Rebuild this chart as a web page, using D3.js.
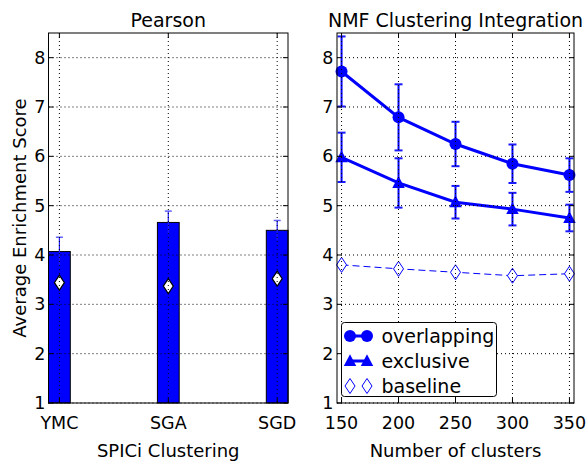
<!DOCTYPE html>
<html>
<head>
<meta charset="utf-8">
<script src="https://cdn.jsdelivr.net/npm/d3@7"></script>
<style>
  body { margin: 0; background: #fff; }
  text { font-family: "DejaVu Sans", sans-serif; fill: #000; }
</style>
</head>
<body>
<div id="chart"></div>
<script>
// Data
let spiciCats = ["YMC", "SGA", "SGD"];
let spiciMeans = [4.07, 4.66, 4.50];
let spiciErr = [0.29, 0.23, 0.20];
let spiciBaseline = [3.44, 3.37, 3.52];

let clusterCounts = [150, 200, 250, 300, 350];
let overlapMeans = [7.72, 6.79, 6.25, 5.85, 5.62];
let overlapErr = [0.71, 0.67, 0.45, 0.39, 0.34];
let exclusiveMeans = [5.98, 5.46, 5.07, 4.93, 4.75];
let exclusiveErr = [0.50, 0.50, 0.33, 0.33, 0.27];
let baselineMeans = [3.80, 3.72, 3.65, 3.58, 3.62];

let yTicks = [1, 2, 3, 4, 5, 6, 7, 8];
let legendNames = ["overlapping", "exclusive", "baseline"];

// Set up chart
let svgWidth = 587;
let svgHeight = 461;
let plotTop = 33, plotBottom = 403;

let svg = d3.select("#chart")
    .append("svg")
    .attr("width", svgWidth)
    .attr("height", svgHeight);

let yScale = d3.scaleLinear().domain([1, 8.5]).range([plotBottom, plotTop]);

let xLeft = d3.scalePoint().domain(spiciCats).range([59.4, 277.2]);
let xLeftLin = d3.scaleLinear().domain([-0.1, 2.1]).range([48.5, 288]);
let xRight = d3.scaleLinear().domain([146, 354]).range([337, 574]);

function diamondPath(w, h) {
    return `M0,${-h / 2}L${w / 2},0L0,${h / 2}L${-w / 2},0Z`;
}
function trianglePath(s) {
    return `M0,${-s * 0.55}L${s / 2},${s * 0.4}L${-s / 2},${s * 0.4}Z`;
}

// Draw grid, ticks, spines for one panel
function drawFrame(g, x0, x1, xTickPos, xLabels, yLabelX) {
    // grid
    yTicks.forEach(t => {
        g.append("line")
            .attr("x1", x0).attr("x2", x1)
            .attr("y1", yScale(t)).attr("y2", yScale(t))
            .attr("stroke", "#000").attr("stroke-width", 1)
            .attr("stroke-dasharray", "1,3");
    });
    xTickPos.forEach(p => {
        g.append("line")
            .attr("x1", p).attr("x2", p)
            .attr("y1", plotTop).attr("y2", plotBottom)
            .attr("stroke", "#000").attr("stroke-width", 1)
            .attr("stroke-dasharray", "1,3");
    });
    // ticks inside on all sides
    yTicks.forEach(t => {
        let y = yScale(t);
        g.append("line").attr("x1", x0).attr("x2", x0 + 5).attr("y1", y).attr("y2", y).attr("stroke", "#000");
        g.append("line").attr("x1", x1).attr("x2", x1 - 5).attr("y1", y).attr("y2", y).attr("stroke", "#000");
        g.append("text")
            .attr("x", yLabelX).attr("y", y)
            .attr("text-anchor", "end")
            .attr("dominant-baseline", "central")
            .attr("font-size", 17.5)
            .text(t);
    });
    xTickPos.forEach((p, i) => {
        g.append("line").attr("x1", p).attr("x2", p).attr("y1", plotBottom).attr("y2", plotBottom - 5).attr("stroke", "#000");
        g.append("line").attr("x1", p).attr("x2", p).attr("y1", plotTop).attr("y2", plotTop + 5).attr("stroke", "#000");
        g.append("text")
            .attr("x", p).attr("y", 429)
            .attr("text-anchor", "middle")
            .attr("font-size", 17.5)
            .text(xLabels[i]);
    });
    g.append("rect")
        .attr("x", x0).attr("y", plotTop)
        .attr("width", x1 - x0).attr("height", plotBottom - plotTop)
        .attr("fill", "none").attr("stroke", "#000").attr("stroke-width", 1);
}

// ---------- Left panel: Pearson ----------
let left = svg.append("g");
let barW = xLeftLin(0.1) - xLeftLin(-0.1);

left.selectAll(".bar")
    .data(spiciCats)
    .enter()
    .append("rect")
    .attr("x", d => xLeft(d) - barW / 2)
    .attr("y", (d, i) => yScale(spiciMeans[i]))
    .attr("width", barW)
    .attr("height", (d, i) => yScale(1) - yScale(spiciMeans[i]))
    .attr("fill", "#0000ff")
    .attr("stroke", "#000")
    .attr("stroke-width", 1);

// error bars
spiciCats.forEach((c, i) => {
    let x = xLeft(c);
    let hi = yScale(spiciMeans[i] + spiciErr[i]);
    let lo = yScale(spiciMeans[i] - spiciErr[i]);
    left.append("line").attr("x1", x).attr("x2", x).attr("y1", hi).attr("y2", lo)
        .attr("stroke", "#2020ff").attr("stroke-width", 1.2);
    left.append("line").attr("x1", x - 3.5).attr("x2", x + 3.5).attr("y1", hi).attr("y2", hi)
        .attr("stroke", "#6060ff").attr("stroke-width", 1.5);
});

// baseline diamonds
left.selectAll(".base")
    .data(spiciCats)
    .enter()
    .append("path")
    .attr("transform", (d, i) => `translate(${xLeft(d)},${yScale(spiciBaseline[i])})`)
    .attr("d", diamondPath(10, 15))
    .attr("fill", "#fff")
    .attr("stroke", "#000")
    .attr("stroke-width", 1.2);

drawFrame(left, 48.5, 288, spiciCats.map(c => xLeft(c)), spiciCats, 45.5);

left.append("text")
    .attr("x", (48.5 + 288) / 2).attr("y", 27)
    .attr("text-anchor", "middle").attr("font-size", 19)
    .text("Pearson");
left.append("text")
    .attr("x", (48.5 + 288) / 2).attr("y", 457)
    .attr("text-anchor", "middle").attr("font-size", 18)
    .text("SPICi Clustering");
left.append("text")
    .attr("transform", `translate(26, ${(plotTop + plotBottom) / 2}) rotate(-90)`)
    .attr("text-anchor", "middle").attr("font-size", 18)
    .text("Average Enrichment Score");

// ---------- Right panel: NMF ----------
let right = svg.append("g");

let line = d3.line()
    .x((d, i) => xRight(clusterCounts[i]))
    .y(d => yScale(d));

function errorBars(means, errs) {
    means.forEach((m, i) => {
        let x = xRight(clusterCounts[i]);
        let hi = yScale(m + errs[i]);
        let lo = yScale(m - errs[i]);
        right.append("line").attr("x1", x).attr("x2", x).attr("y1", hi).attr("y2", lo)
            .attr("stroke", "#0000ff").attr("stroke-width", 2);
        [hi, lo].forEach(y => {
            right.append("line").attr("x1", x - 4).attr("x2", x + 4).attr("y1", y).attr("y2", y)
                .attr("stroke", "#1a1aff").attr("stroke-width", 2);
        });
    });
}

// baseline dashed
right.append("path")
    .datum(baselineMeans)
    .attr("d", line)
    .attr("fill", "none")
    .attr("stroke", "#0000ff")
    .attr("stroke-width", 1)
    .attr("stroke-dasharray", "7,4");
right.selectAll(".bd")
    .data(baselineMeans)
    .enter()
    .append("path")
    .attr("transform", (d, i) => `translate(${xRight(clusterCounts[i])},${yScale(d)})`)
    .attr("d", diamondPath(10, 15))
    .attr("fill", "#fff")
    .attr("stroke", "#0000ff")
    .attr("stroke-width", 1);

// exclusive
errorBars(exclusiveMeans, exclusiveErr);
right.append("path")
    .datum(exclusiveMeans)
    .attr("d", line)
    .attr("fill", "none")
    .attr("stroke", "#0000ff")
    .attr("stroke-width", 3);
right.selectAll(".tri")
    .data(exclusiveMeans)
    .enter()
    .append("path")
    .attr("transform", (d, i) => `translate(${xRight(clusterCounts[i])},${yScale(d)})`)
    .attr("d", trianglePath(12.5))
    .attr("fill", "#0000ff");

// overlapping
errorBars(overlapMeans, overlapErr);
right.append("path")
    .datum(overlapMeans)
    .attr("d", line)
    .attr("fill", "none")
    .attr("stroke", "#0000ff")
    .attr("stroke-width", 3);
right.selectAll(".circ")
    .data(overlapMeans)
    .enter()
    .append("circle")
    .attr("cx", (d, i) => xRight(clusterCounts[i]))
    .attr("cy", d => yScale(d))
    .attr("r", 6)
    .attr("fill", "#0000ff");

drawFrame(right, 337, 574, clusterCounts.map(c => xRight(c)), clusterCounts, 333.5);

right.append("text")
    .attr("x", (337 + 574) / 2).attr("y", 27)
    .attr("text-anchor", "middle").attr("font-size", 19)
    .text("NMF Clustering Integration");
right.append("text")
    .attr("x", (337 + 574) / 2).attr("y", 457)
    .attr("text-anchor", "middle").attr("font-size", 18)
    .text("Number of clusters");

// legend
let legend = right.append("g");
legend.append("rect")
    .attr("x", 341.5).attr("y", 322.5)
    .attr("width", 155).attr("height", 74)
    .attr("rx", 3)
    .attr("fill", "#fff").attr("stroke", "#000").attr("stroke-width", 1);

let legendY = [336, 361, 386];
legendNames.forEach((name, i) => {
    let y = legendY[i];
    let xa = 350, xb = 367;
    if (i < 2) {
        legend.append("line").attr("x1", xa).attr("x2", xb).attr("y1", y).attr("y2", y)
            .attr("stroke", "#0000ff").attr("stroke-width", 3);
    }
    [xa, xb].forEach(x => {
        if (i === 0) {
            legend.append("circle").attr("cx", x).attr("cy", y).attr("r", 6).attr("fill", "#0000ff");
        } else if (i === 1) {
            legend.append("path").attr("transform", `translate(${x},${y})`)
                .attr("d", trianglePath(12.5)).attr("fill", "#0000ff");
        } else {
            legend.append("path").attr("transform", `translate(${x},${y})`)
                .attr("d", diamondPath(10, 15)).attr("fill", "#fff")
                .attr("stroke", "#0000ff").attr("stroke-width", 1);
        }
    });
    legend.append("text")
        .attr("x", 381.5).attr("y", y)
        .attr("dominant-baseline", "central")
        .attr("font-size", 19)
        .text(name);
});
</script>
</body>
</html>
